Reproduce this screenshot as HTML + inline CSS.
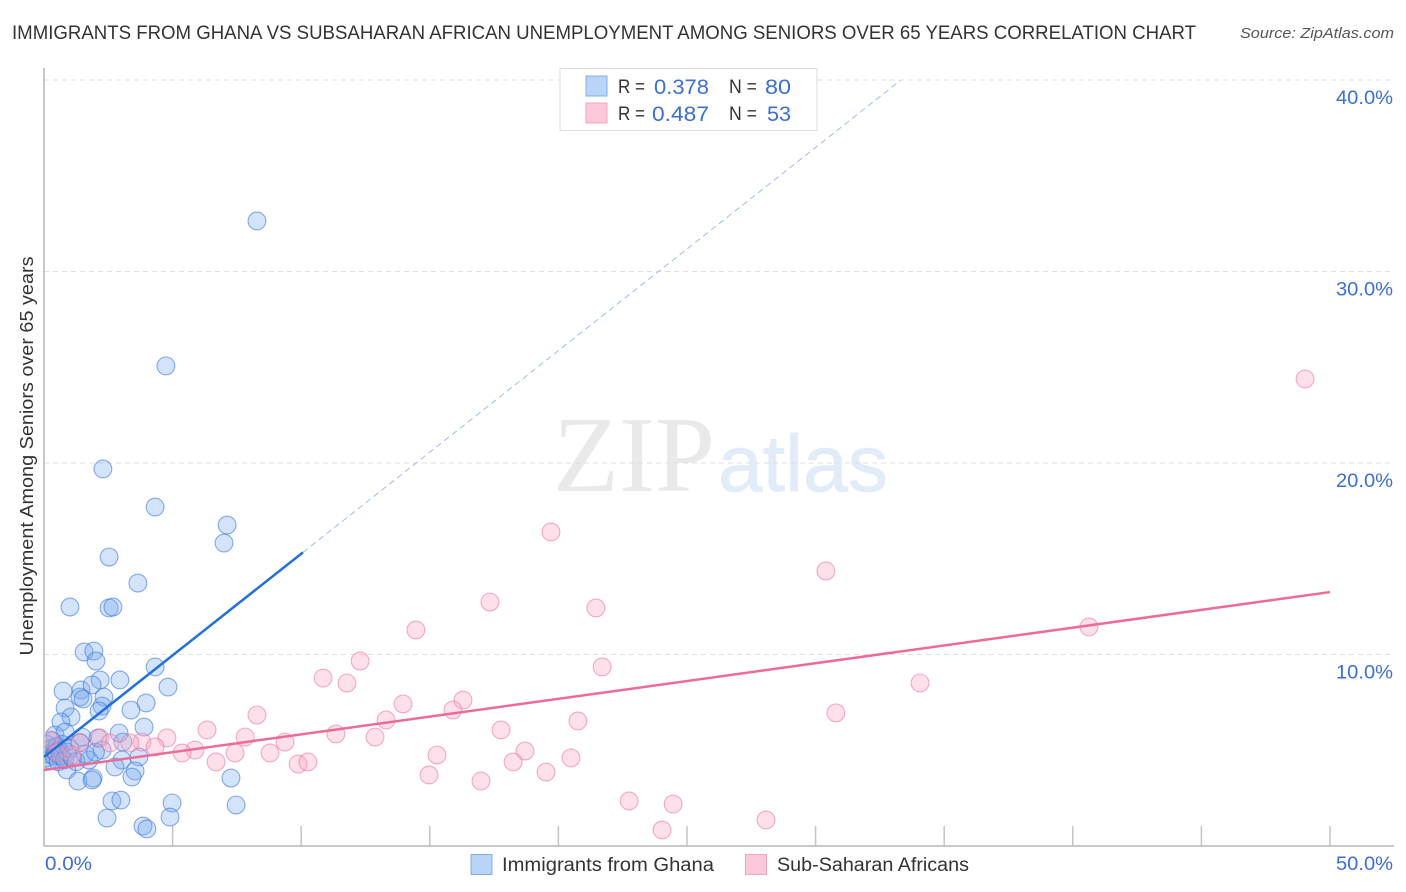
<!DOCTYPE html>
<html lang="en">
<head>
<meta charset="utf-8">
<title>Immigrants from Ghana vs Subsaharan African Unemployment Correlation Chart</title>
<style>
html,body{margin:0;padding:0;background:#fff;}
body{width:1406px;height:892px;overflow:hidden;}
svg{display:block;font-family:"Liberation Sans",sans-serif;}
</style>
</head>
<body>
<svg id="chart" width="1406" height="892" viewBox="0 0 1406 892" xmlns="http://www.w3.org/2000/svg">
  <defs>
    <clipPath id="plot-clip"><rect x="45" y="60" width="1355" height="786"/></clipPath>
  </defs>
  <rect x="0" y="0" width="1406" height="892" fill="#ffffff"/>
  <text x="12" y="39" font-size="19.5" fill="#333333" textLength="1184" lengthAdjust="spacingAndGlyphs">IMMIGRANTS FROM GHANA VS SUBSAHARAN AFRICAN UNEMPLOYMENT AMONG SENIORS OVER 65 YEARS CORRELATION CHART</text>
  <text x="1394" y="38" font-size="15" font-style="italic" fill="#555555" text-anchor="end" textLength="154" lengthAdjust="spacingAndGlyphs">Source: ZipAtlas.com</text>

  <g id="watermark">
    <text x="553" y="491" font-family="'Liberation Serif',serif" font-size="108" fill="#e9e9e9" textLength="162" lengthAdjust="spacingAndGlyphs">ZIP</text>
    <text x="718" y="491" font-size="80" fill="#e2ecf8" stroke="#e2ecf8" stroke-width="0.8" textLength="170" lengthAdjust="spacingAndGlyphs">atlas</text>
  </g>

  <g id="grid"></g>
  <g id="axes"></g>
  <g id="blue-points" clip-path="url(#plot-clip)"></g>
  <g id="pink-points" clip-path="url(#plot-clip)"></g>
  <g id="trends"></g>
  <g id="labels"></g>

  <text transform="translate(33,456) rotate(-90)" font-size="18" fill="#333333" text-anchor="middle" textLength="399" lengthAdjust="spacingAndGlyphs">Unemployment Among Seniors over 65 years</text>

  <g>
    <rect x="560" y="68.500" width="257" height="62" fill="#ffffff" stroke="#dddddd" stroke-width="1"/>
    <rect x="586" y="76" width="21" height="20" fill="#b9d4f7" stroke="#84ade6" stroke-width="1"/>
    <rect x="586" y="103" width="21" height="20" fill="#fcc8da" stroke="#f3a5c0" stroke-width="1"/>
    <text x="618" y="93" font-size="19" fill="#333333" textLength="27" lengthAdjust="spacingAndGlyphs">R =</text>
    <text x="654" y="94" font-size="21" fill="#3b6fd0" textLength="55" lengthAdjust="spacingAndGlyphs">0.378</text>
    <text x="729" y="93" font-size="19" fill="#333333" textLength="28" lengthAdjust="spacingAndGlyphs">N =</text>
    <text x="765" y="94" font-size="21" fill="#3b6fd0" textLength="26" lengthAdjust="spacingAndGlyphs">80</text>
    <text x="618" y="120" font-size="19" fill="#333333" textLength="27" lengthAdjust="spacingAndGlyphs">R =</text>
    <text x="652" y="121" font-size="21" fill="#3b6fd0" textLength="57" lengthAdjust="spacingAndGlyphs">0.487</text>
    <text x="729" y="120" font-size="19" fill="#333333" textLength="28" lengthAdjust="spacingAndGlyphs">N =</text>
    <text x="767" y="121" font-size="21" fill="#3b6fd0" textLength="24" lengthAdjust="spacingAndGlyphs">53</text>
  </g>

  <g>
    <rect x="471" y="854.500" width="21" height="20" fill="#b9d4f7" stroke="#84ade6" stroke-width="1"/>
    <text x="502" y="871" font-size="19" fill="#333333" textLength="212" lengthAdjust="spacingAndGlyphs">Immigrants from Ghana</text>
    <rect x="745.500" y="854.500" width="21" height="20" fill="#fcc8da" stroke="#f3a5c0" stroke-width="1"/>
    <text x="777" y="871" font-size="19" fill="#333333" textLength="192" lengthAdjust="spacingAndGlyphs">Sub-Saharan Africans</text>
  </g>
</svg>
<script>
const xTickValues = [5, 10, 15, 20, 25, 30, 35, 40, 45, 50];
const yTickValues = [10, 20, 30, 40];
const yTickLabels = ['10.0%', '20.0%', '30.0%', '40.0%'];
const xEndLabels = ['0.0%', '50.0%'];

const ghanaX = [8.28,4.74,2.29,4.32,7.12,7.00,2.53,3.65,1.01,2.53,2.68,1.56,1.94,2.02,4.32,2.95,2.18,4.82,0.74,1.44,1.87,1.40,1.52,2.33,3.97,0.82,2.26,2.14,3.38,1.05,0.66,3.89,2.92,0.43,0.82,1.48,2.10,3.07,3.03,3.69,1.75,2.76,3.54,3.42,0.89,1.32,1.91,1.87,4.98,2.64,2.99,2.45,4.90,3.85,4.00,7.27,7.47,2.26,0.05,0.10,0.12,0.18,0.22,0.28,0.32,0.38,0.45,0.50,0.55,0.60,0.65,0.72,0.80,0.90,1.00,1.10,1.25,1.40,1.60,2.00];
const ghanaY = [32.64,25.07,19.69,17.70,16.76,15.82,15.09,13.73,12.48,12.43,12.48,10.13,10.18,9.66,9.35,8.67,8.67,8.30,8.09,8.15,8.41,7.78,7.68,7.78,7.47,7.21,7.31,7.05,7.10,6.74,6.48,6.21,5.90,5.80,5.95,5.69,5.64,5.43,4.49,4.65,4.49,4.13,3.92,3.60,3.97,3.39,3.55,3.45,2.25,2.35,2.40,1.46,1.51,1.04,0.89,3.55,2.14,5.01,5.00,4.60,5.30,4.80,4.50,5.10,5.50,4.70,4.90,5.20,4.40,5.00,4.70,5.30,4.50,4.90,5.10,4.60,4.40,5.40,4.80,4.90];

const africanX = [49.03,19.71,30.40,17.34,21.46,40.63,14.46,12.29,21.70,10.85,11.78,34.06,16.29,13.96,15.90,30.79,8.28,13.30,20.76,6.34,17.77,11.35,12.87,7.82,4.78,9.37,3.81,3.34,4.32,5.87,5.37,8.79,7.43,15.28,18.70,6.69,9.88,10.26,18.24,20.49,14.97,19.52,16.99,22.75,24.46,28.07,24.03,2.18,2.57,1.40,0.23,0.51,1.09];
const africanY = [24.39,16.40,14.36,12.74,12.43,11.44,11.28,9.66,9.35,8.77,8.51,8.51,7.62,7.42,7.10,6.95,6.84,6.58,6.53,6.06,6.06,5.85,5.69,5.69,5.64,5.43,5.43,5.38,5.17,5.01,4.86,4.86,4.86,4.75,4.96,4.39,4.28,4.39,4.39,4.60,3.71,3.86,3.39,2.35,2.19,1.36,0.84,5.64,5.38,5.38,5.54,4.86,4.75];

const ghanaTrendIntercept = 4.65;
const ghanaTrendSlope = 1.061;
const ghanaSolidEndX = 10.07;
const ghanaDashEndX = 33.3;
const africanTrendIntercept = 3.97;
const africanTrendSlope = 0.1858;
const africanTrendEndX = 50;

const SVG_NS = 'http://www.w3.org/2000/svg';
const xScale = v => 44 + v * 25.72;
const yScale = v => 846 - v * 19.15;
function mk(tag, attrs, parent) {
  const el = document.createElementNS(SVG_NS, tag);
  for (const k in attrs) el.setAttribute(k, attrs[k]);
  parent.appendChild(el);
  return el;
}
const gridG = document.getElementById('grid');
const axesG = document.getElementById('axes');
const blueG = document.getElementById('blue-points');
const pinkG = document.getElementById('pink-points');
const trendG = document.getElementById('trends');
const labelG = document.getElementById('labels');

yTickValues.forEach((v, i) => {
  const g = mk('line', {x1: 44, x2: 1394, y1: yScale(v), y2: yScale(v), stroke: '#dfdfdf', 'stroke-width': 1, 'stroke-dasharray': '5 4'}, gridG);
  
  
  const t = mk('text', {x: 1336, y: yScale(v) + 24, 'font-size': 19.5, fill: '#3b6fd0', textLength: 57, lengthAdjust: 'spacingAndGlyphs'}, labelG);
  t.textContent = yTickLabels[i];
  
  
});

const yAxis = mk('line', {x1: 44, x2: 44, y1: 68, y2: 846, stroke: '#b5b5b5', 'stroke-width': 1.5}, axesG);


const xAxis = mk('line', {x1: 44, x2: 1394, y1: 846, y2: 846, stroke: '#b5b5b5', 'stroke-width': 1.5}, axesG);


xTickValues.forEach(v => {
  const tick = mk('line', {x1: xScale(v), x2: xScale(v), y1: 826, y2: 846, stroke: '#c4c4c4', 'stroke-width': 1.5}, axesG);
  
  
});
const xLabel0 = mk('text', {x: 45, y: 870, 'font-size': 19.5, fill: '#3b6fd0', textLength: 47, lengthAdjust: 'spacingAndGlyphs'}, labelG);
xLabel0.textContent = xEndLabels[0];


const xLabel1 = mk('text', {x: 1336, y: 870, 'font-size': 19.5, fill: '#3b6fd0', textLength: 57, lengthAdjust: 'spacingAndGlyphs'}, labelG);
xLabel1.textContent = xEndLabels[1];



ghanaX.forEach((v, i) => {
  const c = mk('circle', {cx: xScale(v), cy: yScale(ghanaY[i]), r: 8.9, fill: 'rgba(120,170,240,0.33)', stroke: 'rgba(60,120,220,0.6)', 'stroke-width': 1.1}, blueG);
  
  
});
africanX.forEach((v, i) => {
  const c = mk('circle', {cx: xScale(v), cy: yScale(africanY[i]), r: 8.9, fill: 'rgba(250,170,195,0.36)', stroke: 'rgba(235,110,150,0.55)', 'stroke-width': 1.1}, pinkG);
  
  
});

const ghanaLine = x => ghanaTrendIntercept + ghanaTrendSlope * x;
const africanLine = x => africanTrendIntercept + africanTrendSlope * x;
const gSolid = mk('line', {x1: xScale(0), y1: yScale(ghanaLine(0)), x2: xScale(ghanaSolidEndX), y2: yScale(ghanaLine(ghanaSolidEndX)), stroke: '#2270d8', 'stroke-width': 2.5}, trendG);


const gDash = mk('line', {x1: xScale(ghanaSolidEndX), y1: yScale(ghanaLine(ghanaSolidEndX)), x2: xScale(ghanaDashEndX), y2: yScale(ghanaLine(ghanaDashEndX)), stroke: '#9dbde9', 'stroke-width': 1, 'stroke-dasharray': '6 4'}, trendG);


const aSolid = mk('line', {x1: xScale(0), y1: yScale(africanLine(0)), x2: xScale(africanTrendEndX), y2: yScale(africanLine(africanTrendEndX)), stroke: '#ec6b9a', 'stroke-width': 2.5}, trendG);


</script>
</body>
</html>
